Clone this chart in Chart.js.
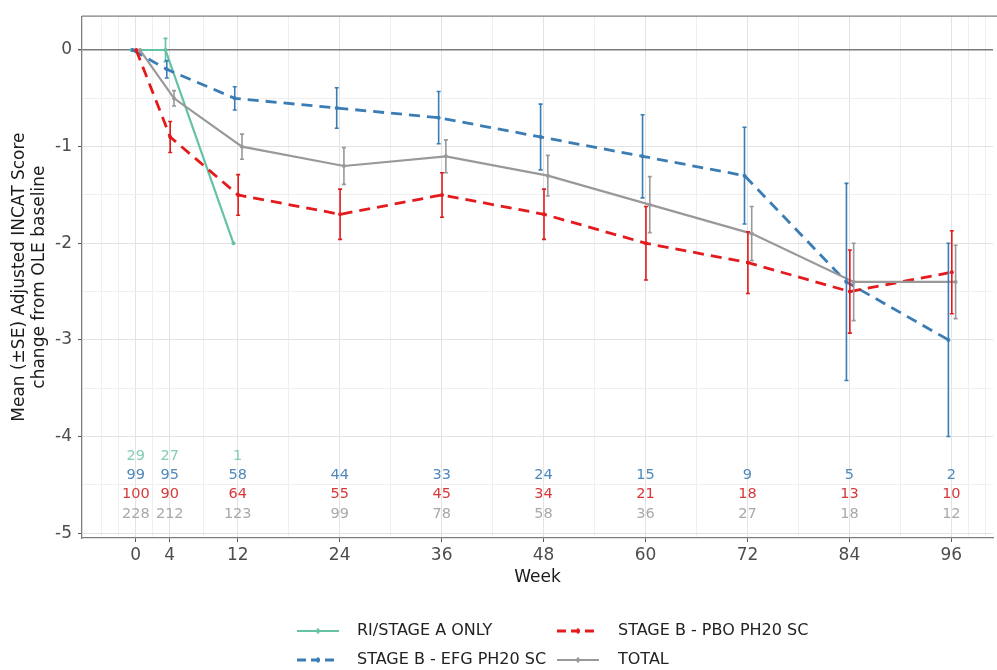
<!DOCTYPE html>
<html>
<head>
<meta charset="utf-8">
<script src="https://cdn.jsdelivr.net/npm/chart.js@4.4.7/dist/chart.umd.min.js"></script>
<style>
  html, body { margin: 0; padding: 0; background: #ffffff; }
  #incatChart { display: block; }
</style>
</head>
<body>
<canvas id="incatChart" width="997" height="670"></canvas>
<script>
// weeks on the x axis
const weeks = [0, 4, 12, 24, 36, 48, 60, 72, 84, 96];
const stageAWeeks = [0, 4, 12];
const majorWeeks = [0, 4, 12, 24, 36, 48, 60, 72, 84, 96];
const gridWeeks = [-4, -2, 0, 2, 4, 8, 12, 18, 24, 30, 36, 42, 48, 54, 60, 66, 72, 78, 84, 90, 96, 98, 100];
const yTicks = [-5, -4.5, -4, -3.5, -3, -2.5, -2, -1.5, -1, -0.5, 0];

// mean change and SE
const stageAMean = [0, 0, -2];
const stageASe = [0, 0.12, 0];
const efgMean = [0, -0.2, -0.5, -0.6, -0.7, -0.9, -1.1, -1.3, -2.4, -3.0];
const efgSe = [0, 0.09, 0.12, 0.21, 0.27, 0.34, 0.43, 0.5, 1.02, 1.0];
const pboMean = [0, -0.9, -1.5, -1.7, -1.5, -1.7, -2.0, -2.2, -2.5, -2.3];
const pboSe = [0, 0.16, 0.21, 0.26, 0.23, 0.26, 0.38, 0.32, 0.43, 0.43];
const totalMean = [0, -0.5, -1.0, -1.2, -1.1, -1.3, -1.6, -1.9, -2.4, -2.4];
const totalSe = [0, 0.08, 0.13, 0.19, 0.17, 0.21, 0.29, 0.28, 0.4, 0.38];

// numbers of patients per visit
const stageAN = [29, 27, 1];
const efgN = [99, 95, 58, 44, 33, 24, 15, 9, 5, 2];
const pboN = [100, 90, 64, 55, 45, 34, 21, 18, 13, 10];
const totalN = [228, 212, 123, 99, 78, 58, 36, 27, 18, 12];

const FONT = "'DejaVu Sans', sans-serif";
const TEAL = "#66c2a5";
const BLUE = "#3a7db5";
const RED = "#e41a1c";
const GREY = "#999999";

function points(xs, means, dodge) {
  return xs.map((w, i) => ({ x: w + dodge, y: means[i] }));
}

function makeSet(label, xs, means, se, color, dashed, dodge, order) {
  return {
    label,
    data: points(xs, means, dodge),
    se,
    borderColor: color,
    backgroundColor: color,
    borderWidth: dashed ? 2.8 : 2.2,
    borderDash: dashed ? [11, 7] : [],
    pointRadius: 2,
    pointBorderWidth: 0,
    pointBackgroundColor: color,
    tension: 0,
    order,
  };
}

const datasets = [
  makeSet("RI/STAGE A ONLY", stageAWeeks, stageAMean, stageASe, TEAL, false, -0.5, 3),
  makeSet("STAGE B - EFG PH20 SC", weeks, efgMean, efgSe, BLUE, true, -0.35, 2),
  makeSet("STAGE B - PBO PH20 SC", weeks, pboMean, pboSe, RED, true, 0.05, 1),
  makeSet("TOTAL", weeks, totalMean, totalSe, GREY, false, 0.5, 0),
];

const errorBars = {
  id: "errorBars",
  afterDatasetsDraw(chart) {
    const { ctx } = chart;
    const yScale = chart.scales.y;
    chart.data.datasets.forEach((ds, di) => {
      const meta = chart.getDatasetMeta(di);
      meta.data.forEach((pt, i) => {
        const se = ds.se[i];
        if (!se) return;
        const v = ds.data[i].y;
        const top = yScale.getPixelForValue(v + se);
        const bottom = yScale.getPixelForValue(v - se);
        ctx.save();
        ctx.strokeStyle = ds.borderColor;
        ctx.lineWidth = 1.6;
        ctx.beginPath();
        ctx.moveTo(pt.x, top);
        ctx.lineTo(pt.x, bottom);
        ctx.moveTo(pt.x - 2, top);
        ctx.lineTo(pt.x + 2, top);
        ctx.moveTo(pt.x - 2, bottom);
        ctx.lineTo(pt.x + 2, bottom);
        ctx.stroke();
        ctx.restore();
      });
    });
  },
};

const countRows = [
  { xs: stageAWeeks, counts: stageAN, level: -4.2, color: "#82cdb3" },
  { xs: weeks, counts: efgN, level: -4.4, color: "#4f88ba" },
  { xs: weeks, counts: pboN, level: -4.6, color: "#d8383a" },
  { xs: weeks, counts: totalN, level: -4.8, color: "#a9a9a9" },
];

const countLabels = {
  id: "countLabels",
  afterDatasetsDraw(chart) {
    const { ctx, scales: { x, y } } = chart;
    ctx.save();
    ctx.font = "14.5px " + FONT;
    ctx.textAlign = "center";
    ctx.textBaseline = "middle";
    countRows.forEach((row) => {
      ctx.fillStyle = row.color;
      row.xs.forEach((w, i) => {
        ctx.fillText(String(row.counts[i]), x.getPixelForValue(w), y.getPixelForValue(row.level));
      });
    });
    ctx.restore();
  },
};

const panelTop = {
  id: "panelTop",
  afterDraw(chart) {
    const { ctx, chartArea } = chart;
    ctx.save();
    ctx.strokeStyle = "#7f7f7f";
    ctx.lineWidth = 1.3;
    ctx.beginPath();
    ctx.moveTo(chartArea.left, chartArea.top);
    ctx.lineTo(chart.width, chartArea.top);
    ctx.stroke();
    ctx.restore();
  },
};

// two column legend, filled column by column like the original
const legendSlots = [
  { index: 0, keyX: 297, textX: 357, y: 631 },
  { index: 1, keyX: 297, textX: 357, y: 660 },
  { index: 2, keyX: 557, textX: 618, y: 631 },
  { index: 3, keyX: 557, textX: 618, y: 660 },
];

const bottomLegend = {
  id: "bottomLegend",
  afterDraw(chart) {
    const { ctx } = chart;
    ctx.save();
    legendSlots.forEach((slot) => {
      const ds = chart.data.datasets[slot.index];
      ctx.strokeStyle = ds.borderColor;
      ctx.lineWidth = ds.borderWidth;
      ctx.setLineDash(ds.borderDash.length ? [9, 5] : []);
      ctx.beginPath();
      ctx.moveTo(slot.keyX, slot.y);
      ctx.lineTo(slot.keyX + 42, slot.y);
      ctx.stroke();
      ctx.setLineDash([]);
      ctx.fillStyle = ds.borderColor;
      ctx.beginPath();
      ctx.arc(slot.keyX + 21, slot.y, 2, 0, Math.PI * 2);
      ctx.fill();
      ctx.lineWidth = 1.2;
      ctx.beginPath();
      ctx.moveTo(slot.keyX + 21, slot.y - 3);
      ctx.lineTo(slot.keyX + 21, slot.y + 3);
      ctx.stroke();
      ctx.fillStyle = "#222222";
      ctx.font = "16px " + FONT;
      ctx.textAlign = "left";
      ctx.textBaseline = "middle";
      ctx.fillText(ds.label, slot.textX, slot.y);
    });
    ctx.restore();
  },
};

new Chart(document.querySelector("#incatChart"), {
  type: "line",
  data: { datasets },
  plugins: [errorBars, countLabels, panelTop, bottomLegend],
  options: {
    responsive: false,
    animation: false,
    devicePixelRatio: 1,
    layout: { padding: { left: 0, right: -4, top: 15, bottom: 82 } },
    plugins: {
      legend: { display: false },
      tooltip: { enabled: false },
    },
    scales: {
      x: {
        type: "linear",
        min: -6.33,
        max: 100.9,
        afterBuildTicks(scale) {
          scale.ticks = gridWeeks.map((v) => ({ value: v }));
        },
        afterFit(scale) {
          scale.height = 50;
        },
        border: { display: true, color: "#7f7f7f", width: 1.3 },
        grid: {
          drawTicks: true,
          tickLength: 4,
          color(ctx) {
            return majorWeeks.includes(ctx.tick.value) ? "#e3e3e3" : "#efefef";
          },
          tickColor(ctx) {
            return majorWeeks.includes(ctx.tick.value) ? "#555555" : "rgba(0,0,0,0)";
          },
        },
        ticks: {
          autoSkip: false,
          maxRotation: 0,
          padding: 3,
          color: "#4d4d4d",
          font: { family: FONT, size: 17 },
          callback(value) {
            return majorWeeks.includes(value) ? String(value) : "";
          },
        },
        title: {
          display: true,
          text: "Week",
          color: "#1a1a1a",
          font: { family: FONT, size: 17 },
          padding: { top: 0, bottom: 0 },
        },
      },
      y: {
        min: -5.05,
        max: 0.35,
        afterBuildTicks(scale) {
          scale.ticks = yTicks.map((v) => ({ value: v }));
        },
        afterFit(scale) {
          scale.width = 82;
        },
        border: { display: true, color: "#7f7f7f", width: 1.3 },
        grid: {
          drawTicks: true,
          tickLength: 4,
          color(ctx) {
            const v = ctx.tick.value;
            if (v === 0) return "#7a7a7a";
            return Number.isInteger(v) ? "#e3e3e3" : "#efefef";
          },
          lineWidth(ctx) {
            return ctx.tick.value === 0 ? 1.4 : 1;
          },
          tickColor(ctx) {
            return Number.isInteger(ctx.tick.value) ? "#555555" : "rgba(0,0,0,0)";
          },
        },
        ticks: {
          autoSkip: false,
          padding: 6,
          color: "#4d4d4d",
          font: { family: FONT, size: 17 },
          callback(value) {
            return Number.isInteger(value) ? String(value) : "";
          },
        },
        title: {
          display: true,
          text: ["Mean (\u00b1SE) Adjusted INCAT Score", "change from OLE baseline"],
          color: "#1a1a1a",
          font: { family: FONT, size: 17, lineHeight: 1.15 },
          padding: { top: 10, bottom: 0 },
        },
      },
    },
  },
});
</script>
</body>
</html>
